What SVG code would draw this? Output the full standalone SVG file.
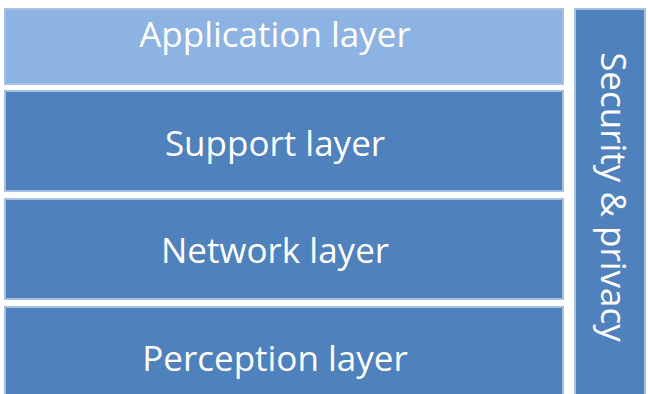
<svg xmlns="http://www.w3.org/2000/svg" width="648" height="394" viewBox="0 0 648 394">
<style>
.box{stroke:#a7c0e2;stroke-width:2}
.dark{fill:#4f81bd}
.light{fill:#8db3e2}
.t{font-family:"Open Sans","Liberation Sans",sans-serif;font-size:35px;fill:#ffffff;text-anchor:middle}
</style>
<rect x="0" y="0" width="648" height="394" fill="#ffffff"/>
<g id="application">
<rect class="box light" x="5" y="9" width="558" height="75"/>
<text class="t" x="275" y="47">Application layer</text>
</g>
<g id="support">
<rect class="box dark" x="5" y="91" width="558" height="100"/>
<text class="t" x="275" y="156">Support layer</text>
</g>
<g id="network">
<rect class="box dark" x="5" y="199" width="558" height="100"/>
<text class="t" x="275" y="263">Network layer</text>
</g>
<g id="perception">
<rect class="box dark" x="5" y="307" width="558" height="90"/>
<text class="t" x="275" y="371">Perception layer</text>
</g>
<g id="security">
<rect class="box dark" x="575" y="9" width="70" height="390"/>
<text class="t" transform="translate(601 197) rotate(90)" x="0" y="0">Security &amp; privacy</text>
</g>
<g id="connectors"/>
</svg>
